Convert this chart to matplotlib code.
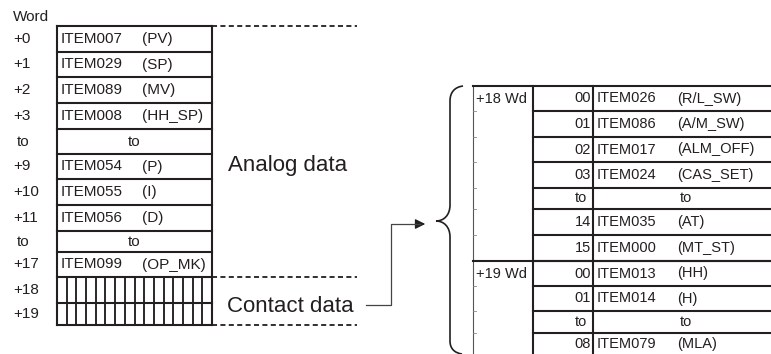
import matplotlib
matplotlib.use("Agg")
import matplotlib.pyplot as plt
from matplotlib.path import Path
from matplotlib.patches import PathPatch, FancyArrowPatch

plt.rcParams['font.family'] = ['Liberation Sans', 'DejaVu Sans']

# ---- data ----
word_header = "Word"
left_words = ["+0", "+1", "+2", "+3", "to", "+9", "+10", "+11", "to", "+17", "+18", "+19"]
left_items = ["ITEM007", "ITEM029", "ITEM089", "ITEM008", "to", "ITEM054",
              "ITEM055", "ITEM056", "to", "ITEM099", "", ""]
left_codes = ["(PV)", "(SP)", "(MV)", "(HH_SP)", "", "(P)", "(I)", "(D)", "", "(OP_MK)", "", ""]
n_bits = 16
analog_label = "Analog data"
contact_label = "Contact data"

right_groups = ["+18 Wd", "+19 Wd"]
group_sizes = [7, 4]
right_bits = ["00", "01", "02", "03", "to", "14", "15", "00", "01", "to", "08"]
right_items = ["ITEM026", "ITEM086", "ITEM017", "ITEM024", "to", "ITEM035",
               "ITEM000", "ITEM013", "ITEM014", "to", "ITEM079"]
right_codes = ["(R/L_SW)", "(A/M_SW)", "(ALM_OFF)", "(CAS_SET)", "", "(AT)",
               "(MT_ST)", "(HH)", "(H)", "", "(MLA)"]

# ---- layout (pixel space) ----
W, H = 771, 354
fig = plt.figure(figsize=(W / 100, H / 100), dpi=100)
ax = fig.add_axes([0, 0, 1, 1])
ax.set_xlim(0, W)
ax.set_ylim(H, 0)
ax.axis('off')

ink = '#231f20'
lw = 1.5
fs = 11
fs_r = 10.5

# Left table
lx0, lx1 = 57, 212
ledges = [26, 52, 77, 103, 129, 154, 179, 205, 231, 252, 277, 303, 325]
ax.text(13, 17, word_header, fontsize=fs, color=ink, va='center', ha='left')
for i, w in enumerate(left_words):
    yc = (ledges[i] + ledges[i + 1]) / 2
    xw = 17 if w == "to" else 13
    ax.text(xw, yc, w, fontsize=fs, color=ink, va='center', ha='left')
    it = left_items[i]
    if it == "to":
        ax.text((lx0 + lx1) / 2, yc, it, fontsize=fs, color=ink, va='center', ha='center')
    elif it:
        ax.text(61, yc, it, fontsize=fs, color=ink, va='center', ha='left')
        ax.text(142, yc, left_codes[i], fontsize=fs, color=ink, va='center', ha='left')
# outline and row lines
ax.plot([lx0, lx0], [ledges[0], ledges[-1]], color=ink, lw=lw, solid_capstyle='projecting')
ax.plot([lx1, lx1], [ledges[0], ledges[-1]], color=ink, lw=lw, solid_capstyle='projecting')
for y in ledges:
    ax.plot([lx0, lx1], [y, y], color=ink, lw=lw, solid_capstyle='projecting')
# bit hatching for contact rows
bw = (lx1 - lx0) / n_bits
for k in range(1, n_bits):
    x = lx0 + k * bw
    ax.plot([x, x], [ledges[10], ledges[12]], color=ink, lw=lw * 0.9)

# dashed guide lines
dash = (2.8, 1.85)
for y in [ledges[0], ledges[10], ledges[12]]:
    ax.plot([lx1, 357], [y, y], color=ink, lw=1.3, linestyle=(0, dash))

ax.text(228, 165, analog_label, fontsize=16, color=ink, va='center', ha='left')
ax.text(227, 306, contact_label, fontsize=16, color=ink, va='center', ha='left')

# connector with arrow
ax.plot([366, 391, 391, 420], [305, 305, 224, 224], color='#444444', lw=0.9)
arr = FancyArrowPatch((415, 224), (428, 224), arrowstyle='-|>,head_length=6,head_width=3',
                      color='#231f20', lw=0.9, mutation_scale=1)
ax.add_patch(arr)

# brace
verts = [(463, 86), (455, 87), (450, 92), (450, 101),
         (450, 205),
         (450, 215), (444, 221), (436, 221),
         (444, 221), (450, 227), (450, 237),
         (450, 341),
         (450, 349), (455, 353), (462, 354)]
codes = [Path.MOVETO, Path.CURVE4, Path.CURVE4, Path.CURVE4,
         Path.LINETO,
         Path.CURVE4, Path.CURVE4, Path.CURVE4,
         Path.CURVE4, Path.CURVE4, Path.CURVE4,
         Path.LINETO,
         Path.CURVE4, Path.CURVE4, Path.CURVE4]
ax.add_patch(PathPatch(Path(verts, codes), fill=False, edgecolor=ink, lw=1.2))

# Right table
rx0, rx1, rx2, rx3 = 473, 533, 593, 771
redges = [86, 111, 137, 162, 188, 209, 235, 261, 286, 311, 333, 356]
# thin left border with small ticks
ax.plot([rx0, rx0], [redges[0], 354], color='#555555', lw=0.8)
for y in redges[1:-1]:
    ax.plot([rx0, rx0 + 3], [y, y], color='#888888', lw=0.6)
ax.plot([rx1, rx1], [redges[0], 354], color=ink, lw=lw)
ax.plot([rx2, rx2], [redges[0], 354], color=ink, lw=lw)
ax.plot([rx0, rx3], [redges[0], redges[0]], color=ink, lw=lw)
g_start = 0
for gi, g in enumerate(right_groups):
    ystart = redges[g_start]
    ax.text(476, ystart + 13, g, fontsize=fs_r, color=ink, va='center', ha='left')
    g_start += group_sizes[gi]
    if g_start < len(right_bits):
        ax.plot([rx0, rx3], [redges[g_start], redges[g_start]], color=ink, lw=lw)
for y in redges[1:-1]:
    ax.plot([rx1, rx3], [y, y], color=ink, lw=lw)
for i, b in enumerate(right_bits):
    yc = (redges[i] + min(redges[i + 1], 354)) / 2
    if i == len(right_bits) - 1:
        yc = 344
    if b == "to":
        ax.text(575, yc, b, fontsize=fs_r, color=ink, va='center', ha='left')
    else:
        ax.text(591, yc, b, fontsize=fs_r, color=ink, va='center', ha='right')
    it = right_items[i]
    if it == "to":
        ax.text(680, yc, it, fontsize=fs_r, color=ink, va='center', ha='left')
    else:
        ax.text(597, yc, it, fontsize=fs_r, color=ink, va='center', ha='left')
        ax.text(677, yc, right_codes[i], fontsize=fs_r, color=ink, va='center', ha='left')

fig.savefig("out.png", dpi=100)
